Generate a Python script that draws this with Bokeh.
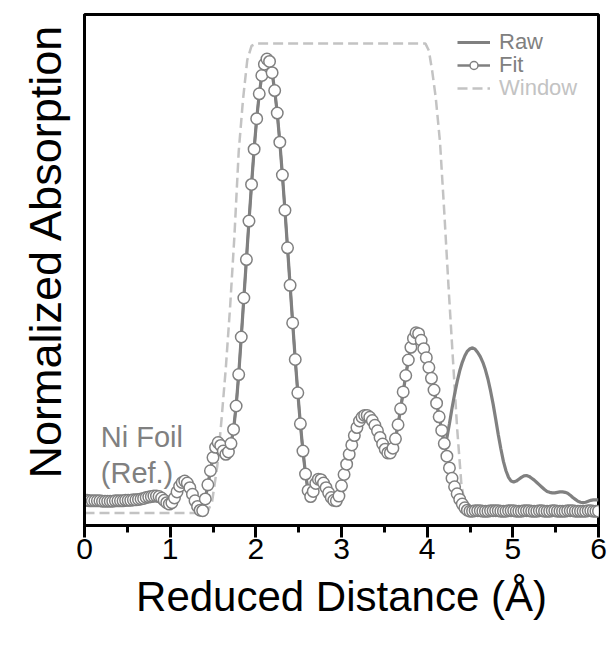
from bokeh.plotting import figure
from bokeh.models import Range1d, FixedTicker, Legend, LegendItem, Label, Title
from bokeh.embed import file_html
from bokeh.resources import INLINE

# ---------------- data ----------------
R = [0.00, 0.03, 0.06, 0.09, 0.12, 0.15, 0.18, 0.21, 0.24, 0.27,
     0.30, 0.33, 0.36, 0.39, 0.42, 0.45, 0.48, 0.51, 0.54, 0.57,
     0.60, 0.63, 0.66, 0.69, 0.72, 0.75, 0.78, 0.81, 0.84, 0.87,
     0.90, 0.93, 0.96, 0.99, 1.02, 1.05, 1.08, 1.11, 1.14, 1.17,
     1.20, 1.23, 1.26, 1.29, 1.32, 1.35, 1.38, 1.41, 1.44, 1.47,
     1.50, 1.53, 1.56, 1.59, 1.62, 1.65, 1.68, 1.71, 1.74, 1.77,
     1.80, 1.83, 1.86, 1.89, 1.92, 1.95, 1.98, 2.01, 2.04, 2.07,
     2.10, 2.13, 2.16, 2.19, 2.22, 2.25, 2.28, 2.31, 2.34, 2.37,
     2.40, 2.43, 2.46, 2.49, 2.52, 2.55, 2.58, 2.61, 2.64, 2.67,
     2.70, 2.73, 2.76, 2.79, 2.82, 2.85, 2.88, 2.91, 2.94, 2.97,
     3.00, 3.03, 3.06, 3.09, 3.12, 3.15, 3.18, 3.21, 3.24, 3.27,
     3.30, 3.33, 3.36, 3.39, 3.42, 3.45, 3.48, 3.51, 3.54, 3.57,
     3.60, 3.63, 3.66, 3.69, 3.72, 3.75, 3.78, 3.81, 3.84, 3.87,
     3.90, 3.93, 3.96, 3.99, 4.02, 4.05, 4.08, 4.11, 4.14, 4.17,
     4.20, 4.23, 4.26, 4.29, 4.32, 4.35, 4.38, 4.41, 4.44, 4.47,
     4.50, 4.53, 4.56, 4.59, 4.62, 4.65, 4.68, 4.71, 4.74, 4.77,
     4.80, 4.83, 4.86, 4.89, 4.92, 4.95, 4.98, 5.01, 5.04, 5.07,
     5.10, 5.13, 5.16, 5.19, 5.22, 5.25, 5.28, 5.31, 5.34, 5.37,
     5.40, 5.43, 5.46, 5.49, 5.52, 5.55, 5.58, 5.61, 5.64, 5.67,
     5.70, 5.73, 5.76, 5.79, 5.82, 5.85, 5.88, 5.91, 5.94, 5.97,
     6.00]

FIT = [0.027, 0.027, 0.026, 0.026, 0.026, 0.026, 0.026, 0.025, 0.025, 0.025,
       0.025, 0.025, 0.026, 0.026, 0.026, 0.026, 0.027, 0.027, 0.027, 0.028,
       0.028, 0.029, 0.030, 0.031, 0.033, 0.034, 0.035, 0.036, 0.036, 0.035,
       0.032, 0.027, 0.022, 0.019, 0.022, 0.032, 0.045, 0.057, 0.065, 0.068,
       0.064, 0.054, 0.040, 0.026, 0.014, 0.006, 0.005, 0.030, 0.060, 0.090,
       0.118, 0.140, 0.150, 0.144, 0.132, 0.125, 0.130, 0.148, 0.178, 0.228,
       0.295, 0.375, 0.458, 0.540, 0.622, 0.700, 0.775, 0.840, 0.893, 0.932,
       0.956, 0.967, 0.962, 0.938, 0.900, 0.852, 0.790, 0.720, 0.645, 0.565,
       0.485, 0.405, 0.327, 0.256, 0.190, 0.132, 0.083, 0.048, 0.035, 0.046,
       0.063, 0.072, 0.071, 0.064, 0.054, 0.043, 0.033, 0.027, 0.026, 0.036,
       0.058, 0.082, 0.104, 0.125, 0.145, 0.165, 0.182, 0.196, 0.204, 0.208,
       0.208, 0.204, 0.197, 0.187, 0.175, 0.161, 0.147, 0.136, 0.128, 0.128,
       0.138, 0.158, 0.188, 0.222, 0.258, 0.293, 0.326, 0.353, 0.372, 0.384,
       0.382, 0.368, 0.350, 0.331, 0.310, 0.287, 0.262, 0.234, 0.205, 0.176,
       0.148, 0.121, 0.096, 0.074, 0.056, 0.041, 0.029, 0.019, 0.011, 0.006,
       0.004, 0.004, 0.005, 0.005, 0.005, 0.004, 0.004, 0.004, 0.005, 0.005,
       0.005, 0.005, 0.004, 0.004, 0.004, 0.005, 0.005, 0.005, 0.004, 0.004,
       0.004, 0.005, 0.005, 0.005, 0.004, 0.004, 0.004, 0.005, 0.005, 0.004,
       0.004, 0.004, 0.005, 0.005, 0.004, 0.004, 0.004, 0.004, 0.005, 0.005,
       0.005, 0.004, 0.004, 0.004, 0.004, 0.004, 0.005, 0.005, 0.004, 0.004,
       0.004]

# raw data coincides with the fit up to R = 4.20; beyond that it keeps its own peak
RAW_SPLIT = 141
RAW_TAIL = [0.160, 0.190, 0.223, 0.253, 0.280, 0.303, 0.321, 0.335, 0.345, 0.350,
            0.352, 0.349, 0.342, 0.333, 0.321, 0.305, 0.285, 0.260, 0.232, 0.200,
            0.167, 0.137, 0.110, 0.090, 0.076, 0.068, 0.066, 0.068, 0.072, 0.076,
            0.079, 0.080, 0.078, 0.074, 0.070, 0.065, 0.060, 0.055, 0.050, 0.046,
            0.044, 0.043, 0.043, 0.044, 0.045, 0.045, 0.044, 0.042, 0.038, 0.033,
            0.029, 0.025, 0.023, 0.022, 0.023, 0.025, 0.027, 0.028, 0.028, 0.028]
RAW = FIT[:RAW_SPLIT] + RAW_TAIL

WIN_R = [0.00, 1.43, 1.49, 1.55, 1.60, 1.65, 1.70, 1.75, 1.80, 1.85, 1.90, 1.95, 2.00,
         3.98, 4.02, 4.06, 4.10, 4.15, 4.20, 4.25, 4.30, 4.35, 4.40, 4.45, 4.48, 6.00]
WIN_Y = [0.00, 0.00, 0.025, 0.10, 0.20, 0.31, 0.44, 0.59, 0.77, 0.88, 0.965, 0.995, 1.00,
         1.00, 0.985, 0.94, 0.885, 0.79, 0.64, 0.48, 0.33, 0.18, 0.06, 0.01, 0.00, 0.00]

X_TICKS = [0, 1, 2, 3, 4, 5, 6]
X_TICK_LABELS = ["0", "1", "2", "3", "4", "5", "6"]
X_MINOR = [0.5, 1.5, 2.5, 3.5, 4.5, 5.5]

X_TITLE = "Reduced Distance (Å)"
Y_TITLE = "Normalized Absorption"
SERIES_NAMES = ["Raw", "Fit", "Window"]
SAMPLE_TEXT = ["Ni Foil", "(Ref.)"]

# ---------------- styling ----------------
FONT = "Liberation Sans"
DARK = "#808080"
LIGHT = "#c3c3c3"

p = figure(width=612, height=650, output_backend="svg", toolbar_location=None,
           x_range=Range1d(0, 6), y_range=Range1d(-0.0266, 1.062),
           min_border_left=84, min_border_right=14, min_border_top=14, min_border_bottom=125)
p.grid.visible = False
p.outline_line_color = "black"
p.outline_line_width = 3
p.background_fill_color = "white"
p.border_fill_color = "white"

win = p.line(WIN_R, WIN_Y, line_color=LIGHT, line_width=2.5, line_dash="10 5")
raw = p.line(R, RAW, line_color=DARK, line_width=3.2)
fit_line = p.line(R, FIT, line_color=DARK, line_width=2.5)
fit_pts = p.scatter(R, FIT, marker="circle", size=11.5, fill_color="white",
                    line_color=DARK, line_width=1.5)

# x axis
xa = p.xaxis[0]
xa.ticker = FixedTicker(ticks=X_TICKS, minor_ticks=X_MINOR)
xa.major_label_overrides = {t: s for t, s in zip(X_TICKS, X_TICK_LABELS)}
xa.axis_line_width = 3
xa.major_tick_line_width = 3
xa.minor_tick_line_width = 3
xa.major_tick_in = 0
xa.major_tick_out = 12
xa.minor_tick_in = 0
xa.minor_tick_out = 7
xa.major_label_text_font = FONT
xa.major_label_text_font_size = "30px"
xa.major_label_text_color = "black"
xa.major_label_standoff = 1
xa.axis_label = X_TITLE
xa.axis_label_text_font = FONT
xa.axis_label_text_font_size = "42px"
xa.axis_label_text_font_style = "normal"
xa.axis_label_text_color = "black"
xa.axis_label_standoff = 11

# y axis (no ticks); its title is a left-side Title so it can be shifted upward
ya = p.yaxis[0]
ya.ticker = FixedTicker(ticks=[])
ya.major_label_text_font_size = "0px"
ya.major_tick_line_color = None
ya.minor_tick_line_color = None
ya.axis_line_width = 3
p.add_layout(Title(text=Y_TITLE, align="left", offset=47, standoff=28,
                   text_font=FONT, text_font_size="45px", text_font_style="normal",
                   text_color="black"), "left")

# sample annotation
p.add_layout(Label(x=0.19, y=0.161, text=SAMPLE_TEXT[0], text_font=FONT, text_font_size="29px",
                   text_color=DARK, text_baseline="alphabetic"))
p.add_layout(Label(x=0.19, y=0.086, text=SAMPLE_TEXT[1], text_font=FONT, text_font_size="29px",
                   text_color=DARK, text_baseline="alphabetic"))

# legends (one per entry so each label gets its own colour)
def make_legend(label, renderers, color, loc):
    lg = Legend(items=[LegendItem(label=label, renderers=renderers)], location=loc,
                padding=0, margin=0, spacing=0, border_line_alpha=0, background_fill_alpha=0,
                glyph_width=33, glyph_height=20, label_height=20, label_standoff=9,
                label_text_font=FONT, label_text_font_size="22px", label_text_color=color)
    p.add_layout(lg, "center")

make_legend(SERIES_NAMES[0], [raw], DARK, (373, 470))
make_legend(SERIES_NAMES[1], [fit_line, fit_pts], DARK, (373, 447))
make_legend(SERIES_NAMES[2], [win], LIGHT, (373, 424))

open("out.html", "w").write(file_html(p, INLINE))
